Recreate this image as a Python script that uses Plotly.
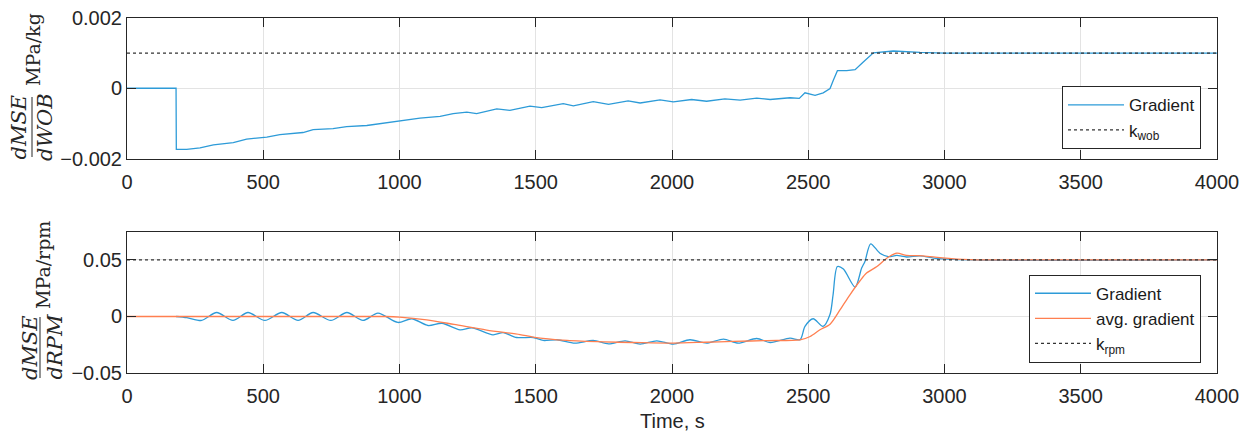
import plotly.graph_objects as go

# ---------------- data ----------------
# Top panel: dMSE/dWOB gradient
t_wob = [0, 180, 181, 219, 268, 292, 317, 390, 439, 513, 561, 646, 683, 756, 806, 880, 953,
         1026, 1075, 1149, 1197, 1247, 1283, 1357, 1405, 1479, 1522, 1601, 1638, 1711, 1767,
         1839, 1883, 1956, 2005, 2072, 2127, 2194, 2250, 2311, 2360, 2433, 2467, 2488, 2525,
         2555, 2580, 2592, 2607, 2641, 2672, 2702, 2739, 2812, 2861, 2910, 3000, 4000]
g_wob = [0, 0, -0.00174, -0.00174, -0.0017, -0.00166, -0.00161, -0.00155, -0.00145, -0.00139,
         -0.00132, -0.00126, -0.00118, -0.00115, -0.00109, -0.00106, -0.00098, -0.00091,
         -0.00085, -0.0008, -0.00072, -0.00068, -0.00072, -0.00059, -0.00063, -0.00051,
         -0.00055, -0.00044, -0.0005, -0.00038, -0.00046, -0.00036, -0.00042, -0.00033,
         -0.00039, -0.00032, -0.00037, -0.0003, -0.00034, -0.00028, -0.00032, -0.00027,
         -0.00029, -0.00013, -0.0002, -0.00013, -0.00001, 0.00023, 0.0005, 0.0005, 0.00053,
         0.00075, 0.00101, 0.00106, 0.00103, 0.00102, 0.001, 0.001]
k_wob = 0.001

# Bottom panel: dMSE/dRPM gradient
t_rpm = [180, 220, 274, 329, 389, 444, 506, 568, 628, 683, 748, 807, 866, 921, 994, 1045, 1105,
         1156, 1222, 1266, 1343, 1380, 1430, 1491, 1527, 1578, 1644, 1711, 1767, 1828, 1883,
         1944, 2005, 2066, 2127, 2189, 2243, 2311, 2360, 2433, 2470, 2488, 2518, 2554, 2580,
         2591, 2607, 2629, 2672, 2696, 2708, 2729, 2763, 2794, 2825, 2861, 2910, 2960, 2996,
         3100, 4000]
g_rpm = [0, -0.001, -0.0035, 0.0035, -0.0035, 0.0035, -0.0035, 0.0035, -0.0035, 0.0035,
         -0.0035, 0.0035, -0.0035, 0.003, -0.0053, -0.002, -0.008, -0.006, -0.0118, -0.010,
         -0.0162, -0.0143, -0.0186, -0.0186, -0.0212, -0.0206, -0.0236, -0.0212, -0.0242,
         -0.0215, -0.0245, -0.0215, -0.0245, -0.0206, -0.0236, -0.0201, -0.0236, -0.0195,
         -0.0230, -0.0192, -0.0205, -0.0088, -0.002, -0.0088, 0.002, 0.019, 0.0442, 0.042,
         0.026, 0.0428, 0.0487, 0.0643, 0.056, 0.053, 0.054, 0.0526, 0.0537, 0.0517, 0.051,
         0.05, 0.05]

t_avg = [0, 950, 1000, 1100, 1200, 1320, 1442, 1490, 1615, 1750, 1857, 2004, 2120, 2224, 2350,
         2470, 2507, 2543, 2580, 2617, 2653, 2690, 2714, 2752, 2789, 2825, 2861, 2921, 2983,
         3045, 3150, 4000]
g_avg = [0, 0, -0.0005, -0.003, -0.007, -0.012, -0.016, -0.0182, -0.0212, -0.0225, -0.023,
         -0.0235, -0.0228, -0.0221, -0.0213, -0.0206, -0.0177, -0.0118, -0.0068, 0.006, 0.0192,
         0.0316, 0.0384, 0.0442, 0.0517, 0.056, 0.054, 0.0537, 0.052, 0.0508, 0.05, 0.05]
k_rpm = 0.05

x_ticks = [0, 500, 1000, 1500, 2000, 2500, 3000, 3500, 4000]
y1_ticks = [-0.002, 0, 0.002]
y1_text = ["\u22120.002", "0", "0.002"]
y2_ticks = [-0.05, 0, 0.05]
y2_text = ["\u22120.05", "0", "0.05"]
x_title = "Time, s"

# ---------------- styling ----------------
W, H = 1249, 432
ML, MR, MT, MB = 127, 32, 18, 59
PW, PH = W - ML - MR, H - MT - MB
BLUE = "#2D9BD8"
ORANGE = "#FF7F50"
AX = "#262626"
GRID = "#E3E3E3"
SANS = "Liberation Sans, Arial, sans-serif"
SERIF = "DejaVu Serif, serif"


def px(xp):
    return (xp - ML) / PW


def py(yp):
    return (H - yp - MB) / PH


fig = go.Figure()
fig.add_trace(go.Scatter(x=t_wob, y=g_wob, mode="lines", name="Gradient",
                         line=dict(color=BLUE, width=1.3), xaxis="x", yaxis="y", legend="legend"))
fig.add_trace(go.Scatter(x=[0, 4000], y=[k_wob, k_wob], mode="lines", name="k<sub>wob</sub>",
                         line=dict(color="#333333", width=1.2, dash="dot"), xaxis="x", yaxis="y",
                         legend="legend"))
fig.add_trace(go.Scatter(x=t_rpm, y=g_rpm, mode="lines", name="Gradient",
                         line=dict(color=BLUE, width=1.3, shape="spline", smoothing=0.8),
                         xaxis="x2", yaxis="y2", legend="legend2"))
fig.add_trace(go.Scatter(x=t_avg, y=g_avg, mode="lines", name="avg. gradient",
                         line=dict(color=ORANGE, width=1.3, shape="spline", smoothing=0.8),
                         xaxis="x2", yaxis="y2", legend="legend2"))
fig.add_trace(go.Scatter(x=[0, 4000], y=[k_rpm, k_rpm], mode="lines", name="k<sub>rpm</sub>",
                         line=dict(color="#333333", width=1.2, dash="dot"), xaxis="x2", yaxis="y2",
                         legend="legend2"))

axis_common = dict(showline=True, mirror="ticks", linecolor=AX, linewidth=1, ticks="inside",
                   ticklen=9, tickcolor=AX, tickwidth=1, showgrid=True, gridcolor=GRID,
                   gridwidth=1, zeroline=False, automargin=False, ticklabeloverflow="allow",
                   tickfont=dict(family=SANS, size=20, color=AX))

top_dom = [max(0.0, py(158.5)), 1.0]
bot_dom = [0.0, min(1.0, py(231.7))]

leg_common = dict(xanchor="right", yanchor="bottom", bordercolor=AX, borderwidth=1,
                  bgcolor="white", itemwidth=56, tracegroupgap=0,
                  font=dict(family=SANS, size=17, color="#1a1a1a"))

fig.update_layout(
    width=W, height=H, margin=dict(l=ML, r=MR, t=MT, b=MB, autoexpand=False),
    paper_bgcolor="white", plot_bgcolor="white",
    xaxis=dict(domain=[0, 1], anchor="y", range=[0, 4000], tickvals=x_ticks,
               ticklabelstandoff=5, **axis_common),
    yaxis=dict(domain=top_dom, anchor="x", range=[-0.002, 0.002], tickvals=y1_ticks,
               ticktext=y1_text, **axis_common),
    xaxis2=dict(domain=[0, 1], anchor="y2", range=[0, 4000], tickvals=x_ticks,
                ticklabelstandoff=5, **axis_common),
    yaxis2=dict(domain=bot_dom, anchor="x2", range=[-0.05, 0.075], tickvals=y2_ticks,
                ticktext=y2_text, **axis_common),
    legend=dict(x=px(1201), y=py(149.3), **leg_common),
    legend2=dict(x=px(1201), y=py(362.7), **leg_common),
    showlegend=True,
)

# y-axis labels (rotated fractions) and x-axis title
ann = []
shapes = []


def frac_label(num, den, unit, x_num, x_bar, x_den, y_c, y_b0, y_b1, x_unit, y_unit):
    ann.append(dict(text=f"<i>{num}</i>", x=px(x_num), y=py(y_c), xref="paper", yref="paper",
                    textangle=-90, showarrow=False, xanchor="center", yanchor="middle",
                    font=dict(family=SERIF, size=21, color=AX)))
    ann.append(dict(text=f"<i>{den}</i>", x=px(x_den), y=py(y_c), xref="paper", yref="paper",
                    textangle=-90, showarrow=False, xanchor="center", yanchor="middle",
                    font=dict(family=SERIF, size=21, color=AX)))
    ann.append(dict(text=unit, x=px(x_unit), y=py(y_unit), xref="paper", yref="paper",
                    textangle=-90, showarrow=False, xanchor="center", yanchor="middle",
                    font=dict(family=SERIF, size=19, color=AX)))
    shapes.append(dict(type="line", xref="paper", yref="paper", x0=px(x_bar), x1=px(x_bar),
                       y0=py(y_b0), y1=py(y_b1), line=dict(color=AX, width=1)))


frac_label("dMSE", "dWOB", "MPa/kg", 18.5, 32, 45, 127, 97, 157, 33, 50)
frac_label("dMSE", "dRPM", "MPa/rpm", 29.5, 40, 54, 347.5, 317, 378, 43, 265)

ann.append(dict(text=x_title, x=0.5, y=py(421), xref="paper", yref="paper", showarrow=False,
                xanchor="center", yanchor="middle", font=dict(family=SANS, size=20, color=AX)))

fig.update_layout(annotations=ann, shapes=shapes)
fig.write_html("out.html", config={"displayModeBar": False},
               post_script="document.body.style.margin='0px';"
                           "document.body.style.overflow='hidden';")
